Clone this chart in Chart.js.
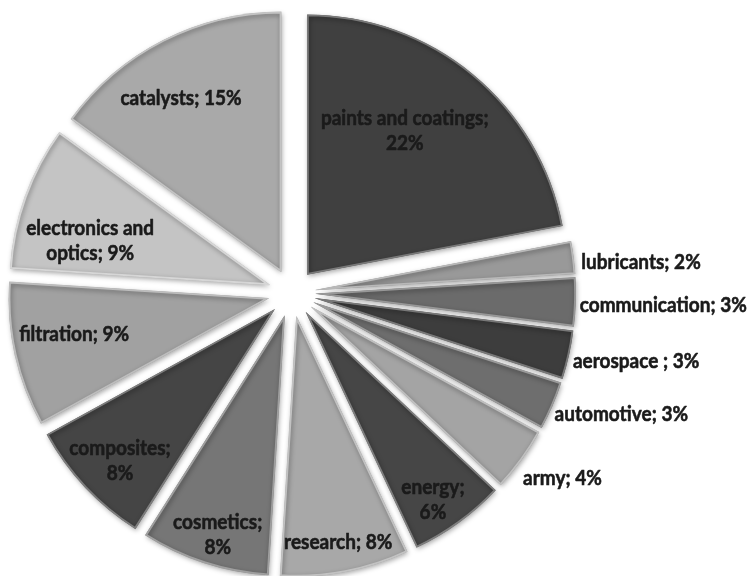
<!DOCTYPE html>
<html>
<head>
<meta charset="utf-8">
<script src="https://cdn.jsdelivr.net/npm/chart.js@4/dist/chart.umd.min.js"></script>
<style>
  html, body { margin: 0; padding: 0; background: #ffffff; }
  #wrap { width: 748px; height: 576px; position: relative; }
</style>
</head>
<body>
<div id="wrap"><canvas id="c" width="748" height="576"></canvas></div>
<script>
// Application areas and their shares (%)
const categories = ['paints and coatings', 'lubricants', 'communication', 'aerospace ', 'automotive', 'army',
  'energy', 'research', 'cosmetics', 'composites', 'filtration', 'electronics and optics', 'catalysts'];
const shares = [22, 2, 3, 3, 3, 4, 6, 8, 8, 8, 9, 9, 15];

// Grey fill of each slice
const sliceColors = ['#404040', '#999999', '#6b6b6b', '#3d3d3d', '#6e6e6e', '#a4a4a4',
  '#464646', '#a8a8a8', '#767676', '#454545', '#a1a1a1', '#c4c4c4', '#a9a9a9'];

// Label placement: inside labels use a fraction of the radius, outside ones a gap past the rim
const labelPlacement = [
  { inside: true, r: 0.67, shift: -5.6, wrap: 180 },
  { inside: false, gap: 7, shift: 1.2 },
  { inside: false, gap: 4, shift: 0.6 },
  { inside: false, gap: 5, shift: 1.1 },
  { inside: false, gap: 5, shift: 1.4 },
  { inside: false, gap: 12, shift: 2.9 },
  { inside: true, r: 0.87, shift: 1.9, wrap: 70 },
  { inside: true, r: 0.88, shift: 0.3, wrap: 200 },
  { inside: true, r: 0.88, shift: -1, wrap: 100 },
  { inside: true, r: 0.83, shift: -1.1, wrap: 110 },
  { inside: true, r: 0.76, shift: 2.3, wrap: 200 },
  { inside: true, r: 0.71, shift: -6, wrap: 140 },
  { inside: true, r: 0.77, shift: -3, wrap: 200 }
];

const EXPLODE = 24;      // distance each slice is pulled away from the centre
const LABEL_FONT = 'Lato, "Open Sans", sans-serif';
const TEXT_SQUEEZE = 0.88; // narrower glyphs, closer to a condensed UI face

function lighten(hex, amt) {
  const n = parseInt(hex.slice(1), 16);
  const ch = [(n >> 16) & 255, (n >> 8) & 255, n & 255].map(v => Math.round(v + (255 - v) * amt));
  return 'rgb(' + ch.join(',') + ')';
}
const rimColors = sliceColors.map(c => lighten(c, 0.3));

// Draws each slice pulled outward along its bisector, with a soft drop shadow
const explodedSlices = {
  id: 'explodedSlices',
  beforeDatasetDraw(chart, args) {
    const ctx = chart.ctx;
    args.meta.data.forEach(arc => {
      const mid = (arc.startAngle + arc.endAngle) / 2;
      ctx.save();
      ctx.translate(Math.cos(mid) * EXPLODE, Math.sin(mid) * EXPLODE);
      ctx.shadowColor = 'rgba(0,0,0,0.35)';
      ctx.shadowBlur = 5;
      ctx.shadowOffsetX = 1;
      ctx.shadowOffsetY = 2;
      arc.draw(ctx);
      ctx.restore();
    });
    return false;
  }
};

function wrapText(ctx, text, maxW) {
  const words = text.split(' ');
  const lines = [];
  let cur = '';
  words.forEach(w => {
    const trial = cur ? cur + ' ' + w : w;
    if (cur && ctx.measureText(trial).width * TEXT_SQUEEZE > maxW) { lines.push(cur); cur = w; }
    else cur = trial;
  });
  if (cur) lines.push(cur);
  return lines;
}

function squeezedText(ctx, str, x, y) {
  ctx.save();
  ctx.translate(x, y);
  ctx.scale(TEXT_SQUEEZE, 1);
  ctx.strokeText(str, 0, 0);
  ctx.fillText(str, 0, 0);
  ctx.restore();
}

// Category name and share written on or beside each slice
const sliceLabels = {
  id: 'sliceLabels',
  afterDraw(chart) {
    const ctx = chart.ctx;
    const arcs = chart.getDatasetMeta(0).data;
    ctx.save();
    ctx.font = 'bold 16px ' + LABEL_FONT;
    const size = 16 * 167 / (ctx.measureText('communication; 3%').width * TEXT_SQUEEZE);
    ctx.font = 'bold ' + size.toFixed(2) + 'px ' + LABEL_FONT;
    ctx.fillStyle = '#1a1a1a';
    ctx.strokeStyle = '#1a1a1a';
    ctx.lineWidth = 0.6;
    ctx.lineJoin = 'round';
    const lineH = 25;
    arcs.forEach((arc, i) => {
      const p = labelPlacement[i];
      const text = categories[i] + '; ' + shares[i] + '%';
      const mid = (arc.startAngle + arc.endAngle) / 2;
      const vx = arc.x + Math.cos(mid) * EXPLODE;
      const vy = arc.y + Math.sin(mid) * EXPLODE;
      const a = mid + p.shift * Math.PI / 180;
      ctx.textBaseline = 'middle';
      if (p.inside) {
        const d = arc.outerRadius * p.r;
        const cx = vx + Math.cos(a) * d;
        const cy = vy + Math.sin(a) * d;
        const lines = wrapText(ctx, text, p.wrap);
        ctx.textAlign = 'center';
        lines.forEach((ln, k) => {
          squeezedText(ctx, ln, cx, cy + (k - (lines.length - 1) / 2) * lineH);
        });
      } else {
        const d = arc.outerRadius + p.gap;
        ctx.textAlign = 'left';
        squeezedText(ctx, text, vx + Math.cos(a) * d, vy + Math.sin(a) * d);
      }
    });
    ctx.restore();
  }
};

new Chart(document.getElementById('c'), {
  type: 'pie',
  data: {
    labels: categories,
    datasets: [{
      data: shares,
      backgroundColor: sliceColors,
      borderColor: rimColors,
      borderWidth: 1.5,
      borderAlign: 'inner'
    }]
  },
  options: {
    responsive: false,
    animation: false,
    events: [],
    radius: 260,
    layout: { padding: { top: 10, right: 164, bottom: 0, left: 0 } },
    plugins: { legend: { display: false }, tooltip: { enabled: false } }
  },
  plugins: [explodedSlices, sliceLabels]
});
</script>
</body>
</html>
